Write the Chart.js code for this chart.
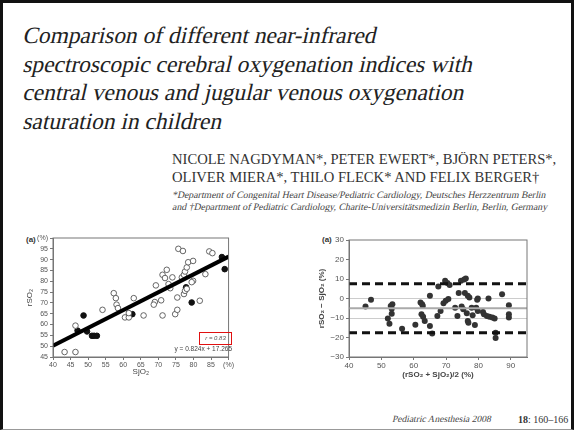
<!DOCTYPE html>
<html>
<head>
<meta charset="utf-8">
<script src="https://cdn.jsdelivr.net/npm/chart.js@4.4.1/dist/chart.umd.min.js"></script>
<style>
html, body { margin: 0; padding: 0; background: #fff; }
body { width: 574px; height: 430px; position: relative; overflow: hidden; }
.frame { position: absolute; left: 0; top: 0; width: 574px; height: 430px; box-sizing: border-box;
  border: 3px solid #111; border-bottom: 1px solid #999; }
.abs { position: absolute; white-space: nowrap; }
.serif { font-family: "Liberation Serif", "DejaVu Serif", serif; }
.slant span { display: block; transform: skewX(-13deg); transform-origin: 0 80%; }
#title { left: 22px; top: 21px; font-size: 23.4px; line-height: 28.5px; color: #222; }
#authors { left: 172px; top: 150px; font-size: 14.6px; line-height: 18px; color: #333; }
#affil { left: 172px; top: 189px; font-size: 9.8px; line-height: 11.5px; color: #444; }
#footer { left: 392px; top: 414px; font-size: 9.5px; color: #444; }
#pages { left: 518px; top: 414px; font-size: 10px; color: #333; }
.lbl { font: bold 8px "Liberation Sans", sans-serif; color: #333; }
#rbox { left: 199px; top: 332px; width: 31px; height: 11px; border: 1.5px solid #e01010;
  font: italic 6px/11px "Liberation Sans", sans-serif; color: #555; text-align: center; }
#eq { left: 158px; top: 345px; width: 74px; text-align: right; font: 6.5px "Liberation Sans", sans-serif; color: #444; }
canvas { position: absolute; }
</style>
</head>
<body>
<div class="frame"></div>
<div id="title" class="abs serif slant"><span>Comparison of different near-infrared</span><span>spectroscopic cerebral oxygenation indices with</span><span>central venous and jugular venous oxygenation</span><span>saturation in children</span></div>
<div id="authors" class="abs serif">NICOLE NAGDYMAN*, PETER EWERT*, BJÖRN PETERS*,<br>OLIVER MIERA*, THILO FLECK* AND FELIX BERGER†</div>
<div id="affil" class="abs serif slant"><span>*Department of Congenital Heart Disease/Pediatric Cardiology, Deutsches Herzzentrum Berlin</span><span>and †Department of Pediatric Cardiology, Charite-Universitätsmedizin Berlin, Berlin, Germany</span></div>
<div id="footer" class="abs serif slant"><span>Pediatric Anesthesia 2008</span></div>
<div id="pages" class="abs serif"><b>18</b>: 160–166</div>
<div class="abs lbl" style="left:26px;top:235px;">(a)</div>
<div class="abs lbl" style="left:322px;top:235px;">(a)</div>

<canvas id="leftChart" width="215" height="149" style="left:20px;top:228px;"></canvas>
<canvas id="rightChart" width="235" height="150" style="left:300px;top:230px;"></canvas>

<div id="rbox" class="abs">r = 0.83</div>
<div id="eq" class="abs">y = 0.824x + 17.265</div>

<script>
// panel (a) left: rSO2 vs SjO2
var openX = [43.3, 46.4, 46.4, 54.1, 57.3, 57.9, 58.1, 58.5, 60.5, 61.6, 61.6, 63.0, 65.8, 69.3, 69.0, 68.7,
  70.8, 71.2, 71.2, 71.9, 72.4, 72.9, 73.4, 74.0, 74.8, 75.4, 75.4, 75.7, 77.0, 76.7, 77.3, 77.6, 78.1, 78.5,
  77.3, 77.6, 78.1, 79.9, 79.9, 79.5, 81.8, 83.4, 84.5, 85.4];
var openY = [47.3, 47.3, 59.5, 66.8, 74.5, 72.2, 69.2, 67.6, 63.3, 63.3, 65.3, 72.2, 64.2, 78.1, 70.4, 69.2,
  71.2, 64.2, 83.0, 81.5, 85.3, 78.7, 76.8, 81.8, 64.8, 66.8, 72.5, 95.0, 94.0, 81.8, 83.0, 84.5, 86.4, 88.8,
  74.1, 75.6, 76.5, 89.4, 80.2, 79.6, 71.0, 83.3, 93.8, 93.0];
var solidX = [48.7, 47.0, 49.7, 51.1, 51.7, 52.5, 62.6, 77.9, 79.5, 88.1, 88.9];
var solidY = [64.2, 57.2, 56.8, 54.8, 54.8, 54.8, 64.8, 77.2, 70.2, 91.2, 85.6];
var fitX = [40, 90];
var fitY = [50.2, 91.4];

// panel (a) right: Bland-Altman
var meanX = [45.1, 46.8, 52.0, 52.5, 52.9, 53.4, 53.2, 53.2, 56.4, 60.5, 62.1, 62.6, 62.8, 62.4, 62.9, 63.4,
  65.0, 65.0, 65.7, 67.3, 67.6, 68.3, 69.2, 69.7, 69.9, 70.4, 70.7, 71.1, 72.8, 73.5, 73.9, 74.6, 74.8, 75.3,
  75.6, 75.8, 76.1, 76.4, 76.7, 76.7, 77.2, 76.9, 77.9, 78.2, 78.9, 79.3, 79.6, 79.8, 79.8, 81.4, 81.7, 82.6,
  83.1, 83.4, 84.3, 85.0, 85.3, 85.3, 87.3, 89.4, 89.4, 89.4];
var diffY = [-4.1, -0.7, -10.3, -12.9, -3.8, -2.9, -5.2, -7.8, -15.5, -13.4, -2.1, -2.9, -3.8, -8.1, -9.3, -11.6,
  1.4, -14.1, -17.9, -9.0, 6.2, -6.4, -2.4, 9.1, -1.2, 7.9, -0.3, 6.9, -4.7, -9.0, 2.8, 9.1, -4.1, -5.5,
  9.7, 2.8, 10.3, -7.6, 1.4, -11.6, 0.5, -12.4, -4.7, -8.6, -13.6, -4.7, -0.7, 0.0, -6.4, -6.9, -8.1, -9.0,
  0.0, -9.3, -9.8, -10.3, -17.6, -20.2, 2.2, -3.4, -8.1, -9.8];
var limitX = [40, 95];
var upperY = [7.6, 7.6];
var biasY = [-5, -5];
var lowerY = [-17.6, -17.6];

var xTicksLeft = [40, 45, 50, 55, 60, 65, 70, 75, 80, 85, 90];
var yTicksLeft = [45, 50, 55, 60, 65, 70, 75, 80, 85, 90, 95, 100];
var xTicksRight = [40, 50, 60, 70, 80, 90];
var yTicksRight = [-30, -20, -10, 0, 10, 20, 30];
var gridRight = [0, -10];

function pts(xs, ys) {
  return xs.map(function (x, i) { return { x: x, y: ys[i] }; });
}
function keepTicks(list) {
  return function (scale) {
    scale.ticks = list.map(function (v) { return { value: v }; });
  };
}

var tickFont = { family: 'Liberation Sans', size: 7 };
var titleFont = { family: 'Liberation Sans', size: 8 };

var boxFrame = {
  id: 'boxFrame',
  afterDraw: function (chart) {
    var a = chart.chartArea, c = chart.ctx;
    c.save();
    c.strokeStyle = '#777';
    c.lineWidth = 1;
    c.strokeRect(a.left, a.top, a.right - a.left, a.bottom - a.top);
    c.restore();
  }
};

Chart.defaults.animation = false;

new Chart(document.getElementById('leftChart'), {
  type: 'scatter',
  data: {
    datasets: [{
      type: 'line',
      data: pts(fitX, fitY),
      borderColor: '#000',
      borderWidth: 4,
      pointRadius: 0
    }, {
      data: pts(openX, openY),
      pointRadius: 2.8,
      borderColor: '#555',
      borderWidth: 0.9,
      backgroundColor: '#fff'
    }, {
      data: pts(solidX, solidY),
      pointRadius: 2.8,
      borderColor: '#111',
      backgroundColor: '#111'
    }]
  },
  options: {
    responsive: false,
    devicePixelRatio: 1,
    layout: { padding: { top: 10, right: 3 } },
    plugins: { legend: { display: false }, tooltip: { enabled: false } },
    scales: {
      x: {
        min: 40, max: 90,
        afterBuildTicks: keepTicks(xTicksLeft),
        afterFit: function (s) { s.height = 20; },
        ticks: { font: tickFont, color: '#555', padding: 1, maxRotation: 0, autoSkip: false,
          callback: function (v) { return v === 90 ? '(%)' : v; } },
        grid: { drawOnChartArea: false, tickLength: 3, tickColor: '#777' },
        border: { color: '#777' },
        title: { display: true, text: 'SjO₂', font: titleFont, color: '#444', padding: 0 }
      },
      y: {
        min: 45, max: 100,
        afterBuildTicks: keepTicks(yTicksLeft),
        afterFit: function (s) { s.width = 33; },
        ticks: { font: tickFont, color: '#555', padding: 2, autoSkip: false,
          callback: function (v) { return v === 100 ? '(%)' : v; } },
        grid: { drawOnChartArea: false, tickLength: 3, tickColor: '#777' },
        border: { color: '#777' },
        title: { display: true, text: 'rSO₂', font: titleFont, color: '#444', padding: 5 }
      }
    }
  },
  plugins: [boxFrame]
});

new Chart(document.getElementById('rightChart'), {
  type: 'scatter',
  data: {
    datasets: [{
      type: 'line',
      data: pts(limitX, biasY),
      borderColor: '#aaa',
      borderWidth: 2,
      pointRadius: 0
    }, {
      type: 'line',
      data: pts(limitX, upperY),
      borderColor: '#111',
      borderWidth: 3,
      borderDash: [8, 5],
      pointRadius: 0
    }, {
      type: 'line',
      data: pts(limitX, lowerY),
      borderColor: '#111',
      borderWidth: 3,
      borderDash: [8, 5],
      pointRadius: 0
    }, {
      data: pts(meanX, diffY),
      pointRadius: 3,
      borderWidth: 0,
      backgroundColor: '#333'
    }]
  },
  options: {
    responsive: false,
    devicePixelRatio: 1,
    layout: { padding: { top: 10, right: 8 } },
    plugins: { legend: { display: false }, tooltip: { enabled: false } },
    scales: {
      x: {
        min: 40, max: 95,
        afterBuildTicks: keepTicks(xTicksRight),
        afterFit: function (s) { s.height = 23; },
        ticks: { font: { family: 'Liberation Sans', size: 8 }, color: '#555', padding: 1, maxRotation: 0, autoSkip: false },
        grid: { drawOnChartArea: false, tickLength: 3, tickColor: '#777' },
        border: { color: '#777' },
        title: { display: true, text: '(rSO₂ + SjO₂)/2 (%)', font: { family: 'Liberation Sans', size: 8, weight: 'bold' }, color: '#444', padding: 0 }
      },
      y: {
        min: -30, max: 30,
        afterBuildTicks: keepTicks(yTicksRight),
        afterFit: function (s) { s.width = 49; },
        ticks: { font: { family: 'Liberation Sans', size: 8 }, color: '#555', padding: 2, autoSkip: false,
          callback: function (v) { return v < 0 ? '−' + Math.abs(v) : v; } },
        grid: {
          tickLength: 3,
          tickColor: '#777',
          color: function (ctx) {
            return ctx.tick && gridRight.indexOf(ctx.tick.value) >= 0 ? '#ccc' : 'rgba(0,0,0,0)';
          }
        },
        border: { color: '#777' },
        title: { display: true, text: 'rSO₂ − SjO₂ (%)', font: { family: 'Liberation Sans', size: 8, weight: 'bold' }, color: '#444', padding: 17 }
      }
    }
  },
  plugins: [boxFrame]
});
</script>
</body>
</html>
